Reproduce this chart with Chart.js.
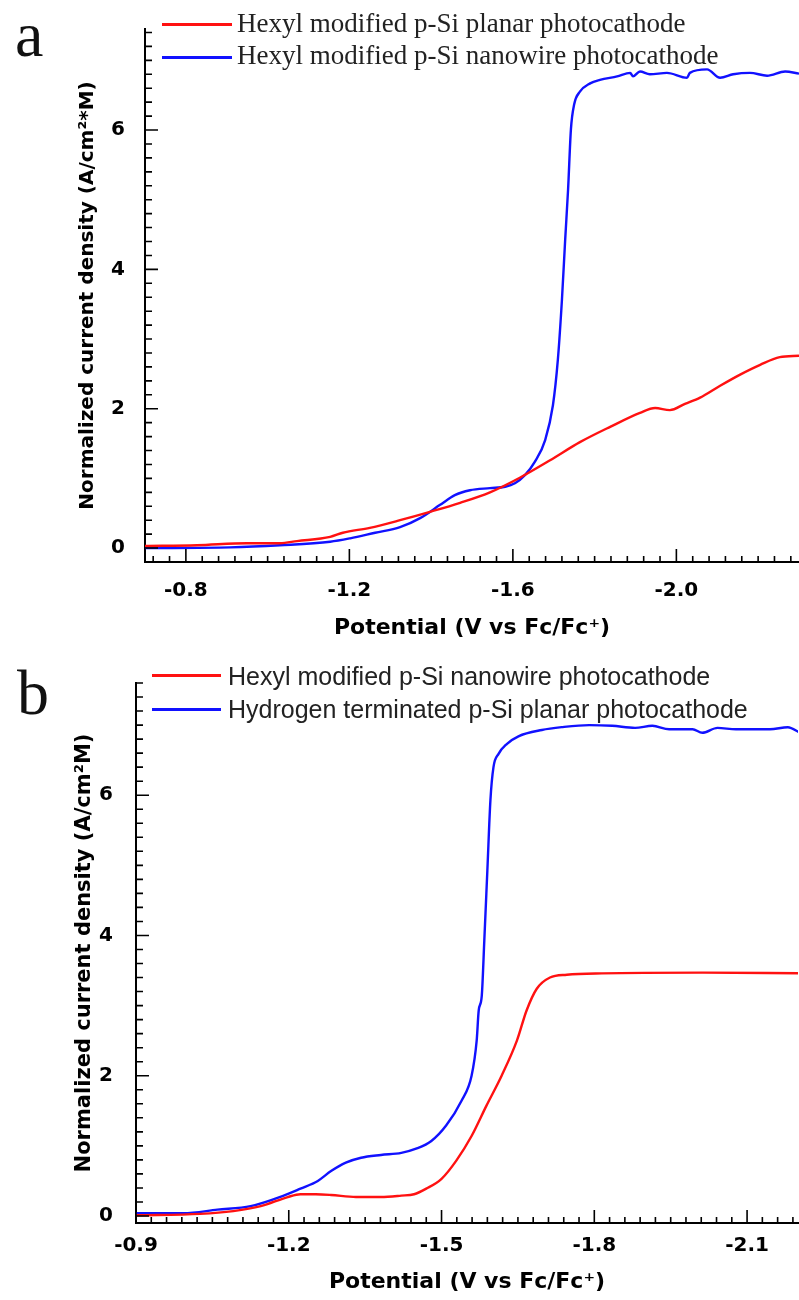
<!DOCTYPE html>
<html>
<head>
<meta charset="utf-8">
<script src="https://cdn.jsdelivr.net/npm/chart.js@4.4.1/dist/chart.umd.min.js"></script>
<style>
  html, body { margin: 0; padding: 0; background: #fff; }
  #page { position: relative; width: 799px; height: 1300px; overflow: hidden; }
  .panel { position: absolute; left: 0; width: 799px; height: 650px; }
  .letter { position: absolute; font-family: 'Liberation Serif', serif; font-size: 64px; line-height: 64px; color: #111; }
  .key { position: absolute; white-space: nowrap; color: #222; }
  .keyA { font-family: 'Liberation Serif', serif; font-size: 27px; line-height: 27px; }
  .keyB { font-family: 'Liberation Sans', Arial, sans-serif; font-size: 25px; line-height: 25px; }
  .swatch { position: absolute; height: 3px; }
</style>
</head>
<body>
<div id="page">
  <canvas id="chartA" class="panel" style="top:0" width="799" height="650"></canvas>
  <canvas id="chartB" class="panel" style="top:650px" width="799" height="650"></canvas>

  <div class="letter" style="left:15px; top:3px">a</div>
  <div class="letter" style="left:17px; top:661px">b</div>

  <div class="swatch" style="left:162px; top:23px; width:70px; background:#ff1111"></div>
  <div class="key keyA" style="left:237px; top:10px">Hexyl modified p-Si planar photocathode</div>
  <div class="swatch" style="left:162px; top:56px; width:70px; background:#1111ff"></div>
  <div class="key keyA" style="left:237px; top:42px">Hexyl modified p-Si nanowire photocathode</div>

  <div class="swatch" style="left:152px; top:674px; width:69px; background:#ff1111"></div>
  <div class="key keyB" style="left:228px; top:664px">Hexyl modified p-Si nanowire photocathode</div>
  <div class="swatch" style="left:152px; top:708px; width:69px; background:#1111ff"></div>
  <div class="key keyB" style="left:228px; top:697px">Hydrogen terminated p-Si planar photocathode</div>
</div>

<script>
// ---- panel a : hexyl planar (red) vs hexyl nanowire (blue) ----
const potA_planar = [-0.700, -0.827, -0.950, -1.030, -1.072, -1.153, -1.184, -1.250, -1.324, -1.397,
  -1.471, -1.544, -1.617, -1.691, -1.764, -1.838, -1.911, -1.948, -1.984, -2.021,
  -2.058, -2.107, -2.156, -2.205, -2.253, -2.300];
const curA_planar = [0.03, 0.04, 0.07, 0.07, 0.10, 0.16, 0.22, 0.29, 0.40, 0.52,
  0.65, 0.80, 1.01, 1.26, 1.52, 1.74, 1.94, 2.01, 1.98, 2.07,
  2.16, 2.33, 2.49, 2.63, 2.74, 2.76];

const potA_wire = [-0.700, -0.908, -1.030, -1.153, -1.202, -1.263, -1.324, -1.373, -1.422, -1.458,
  -1.495, -1.544, -1.581, -1.605, -1.630, -1.654, -1.679, -1.698, -1.710, -1.720,
  -1.728, -1.735, -1.742, -1.750, -1.764, -1.789, -1.813, -1.855, -1.887, -1.894,
  -1.911, -1.935, -1.977, -2.026, -2.033, -2.075, -2.107, -2.139, -2.180, -2.222,
  -2.266, -2.300];
const curA_wire = [0.00, 0.01, 0.04, 0.09, 0.14, 0.22, 0.30, 0.43, 0.62, 0.76,
  0.83, 0.86, 0.88, 0.93, 1.05, 1.24, 1.55, 2.05, 2.70, 3.56,
  4.43, 5.14, 6.01, 6.37, 6.55, 6.67, 6.72, 6.77, 6.82, 6.77,
  6.84, 6.80, 6.82, 6.75, 6.82, 6.87, 6.75, 6.80, 6.82, 6.78,
  6.84, 6.81];

// ---- panel b : hexyl nanowire (red) vs H-terminated planar (blue) ----
const potB_wire = [-0.900, -1.026, -1.091, -1.145, -1.198, -1.223, -1.253, -1.283, -1.332, -1.381,
  -1.421, -1.446, -1.470, -1.500, -1.529, -1.559, -1.588, -1.618, -1.648, -1.667,
  -1.687, -1.713, -1.746, -1.815, -2.012, -2.204];
const curB_wire = [0.01, 0.03, 0.07, 0.14, 0.27, 0.31, 0.31, 0.30, 0.27, 0.27,
  0.29, 0.31, 0.39, 0.53, 0.79, 1.14, 1.57, 2.00, 2.50, 2.93,
  3.24, 3.40, 3.44, 3.46, 3.47, 3.46];

const potB_planarH = [-0.900, -0.993, -1.060, -1.125, -1.190, -1.223, -1.257, -1.283, -1.312, -1.342,
  -1.381, -1.421, -1.450, -1.480, -1.509, -1.539, -1.559, -1.569, -1.573, -1.579,
  -1.584, -1.590, -1.596, -1.602, -1.612, -1.628, -1.651, -1.697, -1.736, -1.790,
  -1.835, -1.880, -1.914, -1.947, -1.993, -2.012, -2.042, -2.078, -2.145, -2.180,
  -2.204];
const curB_planarH = [0.04, 0.04, 0.09, 0.14, 0.29, 0.39, 0.50, 0.64, 0.76, 0.83,
  0.87, 0.90, 0.96, 1.07, 1.29, 1.64, 2.00, 2.50, 2.93, 3.14,
  3.93, 4.93, 5.93, 6.40, 6.59, 6.73, 6.84, 6.93, 6.97, 7.00,
  6.99, 6.96, 6.99, 6.94, 6.94, 6.89, 6.96, 6.94, 6.94, 6.97,
  6.89];

// tick labels
const xTicksA = [-0.8, -1.2, -1.6, -2.0];
const xTicksB = [-0.9, -1.2, -1.5, -1.8, -2.1];
const yTicks = [0, 2, 4, 6];

const RED = '#ff1111';
const BLUE = '#1111ff';

Chart.defaults.font.family = "'DejaVu Sans', sans-serif";
Chart.defaults.color = '#000';

function toPoints(xs, ys) {
    return xs.map((v, i) => ({ x: v, y: ys[i] }));
}

// minor + major ticks pointing into the plot
const insideTicks = {
    id: 'insideTicks',
    afterDraw(chart, args, opts) {
        const { ctx, chartArea: a, scales: { x, y } } = chart;
        ctx.save();
        ctx.strokeStyle = '#000';
        ctx.lineWidth = 1.6;
        ctx.beginPath();
        for (let i = 0; ; i++) {
            const v = opts.xStart - i * opts.xStep;
            if (v < x.min - 1e-9) break;
            const px = x.getPixelForValue(v);
            const major = opts.xMajor.some(m => Math.abs(m - v) < 1e-6);
            ctx.moveTo(px, a.bottom);
            ctx.lineTo(px, a.bottom - (major ? 13 : 6));
        }
        for (let i = 0; ; i++) {
            const v = opts.yStart + i * opts.yStep;
            if (v > y.max + 1e-9) break;
            const py = y.getPixelForValue(v);
            const major = yTicks.some(m => Math.abs(m - v) < 1e-6);
            ctx.moveTo(a.left, py);
            ctx.lineTo(a.left + (major ? 13 : 7), py);
        }
        ctx.stroke();
        ctx.restore();
    }
};

function makeChart(id, cfg) {
    const ctx = document.getElementById(id).getContext('2d');
    return new Chart(ctx, {
        type: 'line',
        data: {
            datasets: [
                {
                    label: cfg.redLabel,
                    data: toPoints(cfg.redX, cfg.redY),
                    borderColor: RED,
                    borderWidth: 2.4,
                    pointRadius: 0,
                    cubicInterpolationMode: 'monotone'
                },
                {
                    label: cfg.blueLabel,
                    data: toPoints(cfg.blueX, cfg.blueY),
                    borderColor: BLUE,
                    borderWidth: 2.4,
                    pointRadius: 0,
                    cubicInterpolationMode: 'monotone'
                }
            ]
        },
        options: {
            responsive: false,
            animation: false,
            devicePixelRatio: 1,
            layout: { padding: cfg.padding },
            plugins: {
                legend: { display: false },
                tooltip: { enabled: false },
                insideTicks: cfg.tickOpts
            },
            scales: {
                x: {
                    type: 'linear',
                    min: cfg.xMin,
                    max: cfg.xMax,
                    reverse: true,
                    grid: { display: false },
                    border: { display: true, color: '#000', width: 2 },
                    afterBuildTicks: s => { s.ticks = cfg.xTicks.map(v => ({ value: v })); },
                    afterFit: s => { s.height = cfg.xAxisH; },
                    ticks: {
                        autoSkip: false,
                        maxRotation: 0,
                        padding: cfg.xPad,
                        font: { size: 20, weight: 'bold' },
                        callback: v => v.toFixed(1)
                    },
                    title: {
                        display: true,
                        text: 'Potential (V vs Fc/Fc\u207A)',
                        font: { size: 22, weight: 'bold' },
                        padding: 0
                    }
                },
                y: {
                    type: 'linear',
                    min: cfg.yMin,
                    max: cfg.yMax,
                    grid: { display: false },
                    border: { display: true, color: '#000', width: 2 },
                    afterBuildTicks: s => { s.ticks = yTicks.map(v => ({ value: v })); },
                    afterFit: s => { s.width = cfg.yAxisW; },
                    ticks: {
                        autoSkip: false,
                        padding: cfg.yPad,
                        font: { size: 20, weight: 'bold' },
                        callback: v => String(v)
                    },
                    title: {
                        display: true,
                        text: cfg.yTitle,
                        font: { size: cfg.yTitleSize, weight: 'bold' },
                        padding: 0
                    }
                }
            }
        },
        plugins: [insideTicks]
    });
}

makeChart('chartA', {
    redLabel: 'Hexyl modified p-Si planar photocathode',
    blueLabel: 'Hexyl modified p-Si nanowire photocathode',
    redX: potA_planar, redY: curA_planar,
    blueX: potA_wire, blueY: curA_wire,
    xMin: -2.3, xMax: -0.7, xTicks: xTicksA,
    yMin: -0.2, yMax: 7.45,
    yTitle: 'Normalized current density (A/cm\u00B2*M)', yTitleSize: 20,
    padding: { top: 29, right: 0, left: 76, bottom: 9 },
    xAxisH: 79, yAxisW: 69, xPad: 9, yPad: 12,
    tickOpts: { xStart: -0.72, xStep: 0.04, xMajor: xTicksA, yStart: -0.2, yStep: 0.2 }
});

makeChart('chartB', {
    redLabel: 'Hexyl modified p-Si nanowire photocathode',
    blueLabel: 'Hydrogen terminated p-Si planar photocathode',
    redX: potB_wire, redY: curB_wire,
    blueX: potB_planarH, blueY: curB_planarH,
    xMin: -2.2, xMax: -0.9, xTicks: xTicksB,
    yMin: -0.1, yMax: 7.6,
    yTitle: 'Normalized current density (A/cm\u00B2M)', yTitleSize: 21,
    padding: { top: 33, right: 1, left: 72, bottom: 5 },
    xAxisH: 72, yAxisW: 64, xPad: 3, yPad: 15,
    tickOpts: { xStart: -0.9, xStep: 0.03, xMajor: xTicksB, yStart: 0, yStep: 0.2 }
});
</script>
</body>
</html>
